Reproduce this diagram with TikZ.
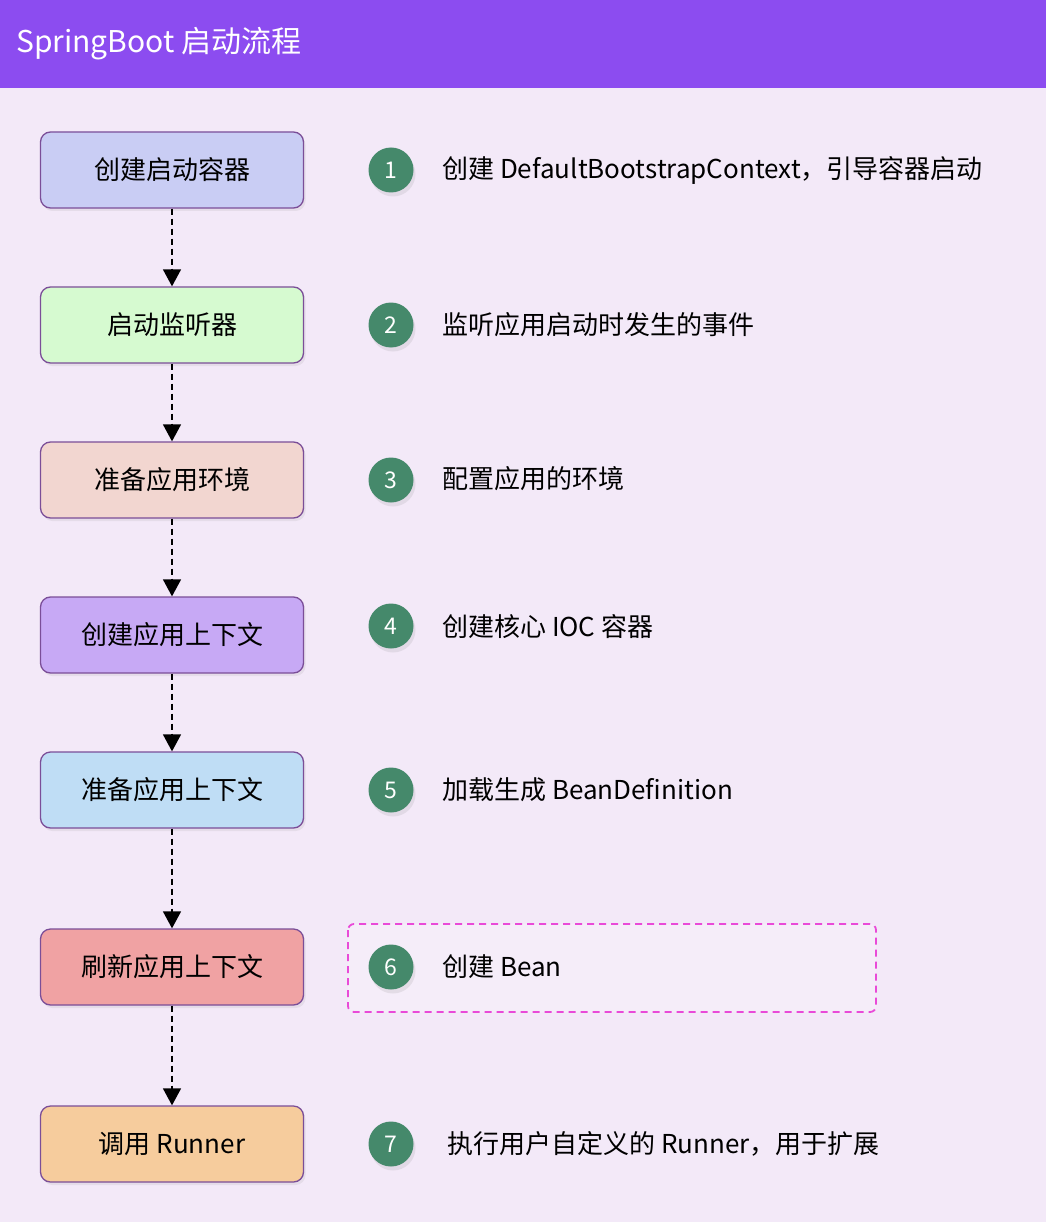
\documentclass[tikz,border=0pt]{standalone}
\usepackage{fontspec}
\setmainfont{Noto Sans CJK SC}
\usetikzlibrary{arrows.meta,shadows}
\definecolor{bg}{HTML}{F3E9F8}
\definecolor{hdr}{HTML}{8C4CF0}
\definecolor{bord}{HTML}{7B4E98}
\definecolor{cA}{HTML}{C9CDF4}
\definecolor{cB}{HTML}{D6FAD0}
\definecolor{cC}{HTML}{F2D6D0}
\definecolor{cD}{HTML}{C7A9F5}
\definecolor{cE}{HTML}{BFDDF5}
\definecolor{cF}{HTML}{F0A2A3}
\definecolor{cG}{HTML}{F6CC9D}
\definecolor{numc}{HTML}{45896B}
\definecolor{pinkd}{HTML}{E94AD8}
\tikzset{
  stepbox/.style={draw=bord, line width=1.3pt, rounded corners=10pt,
    minimum width=263pt, minimum height=76pt, inner sep=0pt,
    font=\fontsize{26}{30}\selectfont,
    drop shadow={opacity=0.12, shadow xshift=2pt, shadow yshift=-3pt}},
  numc/.style={circle, fill=numc, minimum size=45pt, inner sep=0pt, text=white,
    font=\fontsize{23}{26}\selectfont,
    drop shadow={opacity=0.15, shadow xshift=2pt, shadow yshift=-4pt}},
  desc/.style={anchor=west, inner sep=0pt, font=\fontsize{26}{30}\selectfont},
  flow/.style={black, line width=1.4pt, dash pattern=on 6pt off 4pt,
    -{Triangle[width=18pt,length=17pt]}}
}
\begin{document}
\begin{tikzpicture}[x=1pt,y=-1pt]
\useasboundingbox (0,0) rectangle (1046,1222);
\fill[bg] (0,0) rectangle (1046,1222);
\fill[hdr] (0,0) rectangle (1046,88);
\node[anchor=west, text=white, inner sep=0pt, font=\fontsize{30}{34}\selectfont] (title) at (16,44) {SpringBoot 启动流程};

\draw[pinkd, line width=1.8pt, dash pattern=on 7pt off 5pt, rounded corners=6pt, fill=white, fill opacity=0.2] (348,924) rectangle (876,1012);

\node[stepbox, fill=cA] (b1) at (172,170) {创建启动容器};
\node[stepbox, fill=cB] (b2) at (172,325) {启动监听器};
\node[stepbox, fill=cC] (b3) at (172,480) {准备应用环境};
\node[stepbox, fill=cD] (b4) at (172,635) {创建应用上下文};
\node[stepbox, fill=cE] (b5) at (172,790) {准备应用上下文};
\node[stepbox, fill=cF] (b6) at (172,967) {刷新应用上下文};
\node[stepbox, fill=cG] (b7) at (172,1144) {调用 Runner};

\draw[flow] (b1) -- (b2);
\draw[flow] (b2) -- (b3);
\draw[flow] (b3) -- (b4);
\draw[flow] (b4) -- (b5);
\draw[flow] (b5) -- (b6);
\draw[flow] (b6) -- (b7);

\node[numc] (n1) at (391,170) {1};
\node[numc] (n2) at (391,325) {2};
\node[numc] (n3) at (391,480) {3};
\node[numc] (n4) at (391,626) {4};
\node[numc] (n5) at (391,790) {5};
\node[numc] (n6) at (391,967) {6};
\node[numc] (n7) at (391,1144) {7};

\node[desc] (t1) at (442,170) {创建 DefaultBootstrapContext，引导容器启动};
\node[desc] (t2) at (442,325) {监听应用启动时发生的事件};
\node[desc] (t3) at (442,479) {配置应用的环境};
\node[desc] (t4) at (442,627) {创建核心 IOC 容器};
\node[desc] (t5) at (442,790) {加载生成 BeanDefinition};
\node[desc] (t6) at (442,967) {创建 Bean};
\node[desc] (t7) at (447,1144) {执行用户自定义的 Runner，用于扩展};
\end{tikzpicture}
\end{document}
